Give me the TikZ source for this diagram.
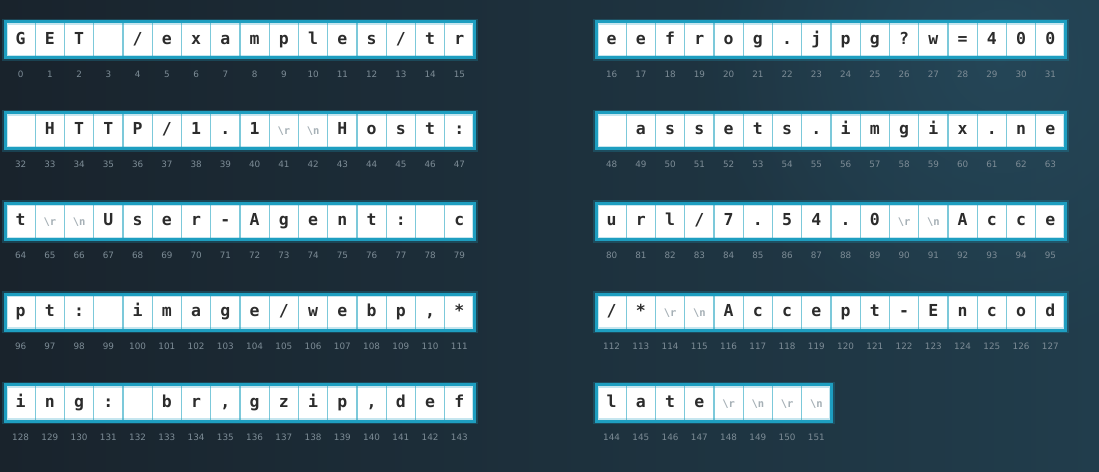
\documentclass[tikz,border=0pt]{standalone}
\usepackage{fontspec}
\usetikzlibrary{fadings}
\setmainfont{DejaVu Sans}
\newfontfamily\cellfont{DejaVu Sans Mono}
\newfontfamily\numfont{DejaVu Sans}
\definecolor{bgL}{HTML}{19232C}
\definecolor{bgR}{HTML}{213D4C}
\definecolor{glow}{HTML}{26495B}
\definecolor{cellline}{HTML}{7CC9DA}
\definecolor{outerline}{HTML}{1E9EC0}
\definecolor{celltext}{HTML}{2C2C2C}
\definecolor{escgray}{HTML}{A6B0B6}
\definecolor{idxgray}{HTML}{7D8C96}
\tikzfading[name=softglow, inner color=transparent!0, outer color=transparent!100]
\newcommand\escch[1]{{\color{escgray}\fontsize{10.5}{10.5}\selectfont\textbackslash #1}}
\tikzset{
  cellbox/.style={draw=cellline, line width=1.2pt, fill=white, minimum width=29.25pt,
    minimum height=35pt, inner sep=0pt, text=celltext, text height=11.5pt, text depth=3pt,
    font=\cellfont\bfseries\fontsize{16.5}{16.5}\selectfont},
  idxlabel/.style={text=idxgray, inner sep=0pt, text height=6.5pt, text depth=0pt,
    font=\numfont\fontsize{8.8}{8.8}\selectfont},
  outerbox/.style={draw=outerline, line width=3pt},
  glowbox/.style={draw=outerline, line width=6pt, opacity=0.25}
}
\newcommand\brow[5]{%
  \foreach \c [count=\k from 0] in {#5} {
    \pgfmathtruncatemacro\idx{#3+\k}
    \node[cellbox] (c\idx) at ({#1+29.25*\k+14.625}, #2) {\c};
    \node[idxlabel] (n\idx) at ([yshift=-34pt]c\idx.center) {\idx};
  }
  \draw[glowbox] (c#3.north west) rectangle (c#4.south east);
  \draw[outerbox] (c#3.north west) rectangle (c#4.south east);
}
\begin{document}
\begin{tikzpicture}[x=1pt,y=-1pt]
\shade[left color=bgL, right color=bgR] (0,0) rectangle (1099,471);
\begin{scope}
  \clip (0,0) rectangle (1099,471);
  \fill[glow, path fading=softglow, opacity=0.8] (1000,60) circle (300);
\end{scope}
\useasboundingbox (0,0) rectangle (1099,471);
\def\R{\escch{r}}
\def\N{\escch{n}}
% left column
\brow{6}{39.8}{0}{15}{G,E,T,{},/,e,x,a,m,p,l,e,s,/,t,r}
\brow{6}{130.6}{32}{47}{{},H,T,T,P,/,1,.,1,\R,\N,H,o,s,t,:}
\brow{6}{221.4}{64}{79}{t,\R,\N,U,s,e,r,-,A,g,e,n,t,:,{},c}
\brow{6}{312.2}{96}{111}{p,t,:,{},i,m,a,g,e,/,w,e,b,p,{,},*}
\brow{6}{403}{128}{143}{i,n,g,:,{},b,r,{,},g,z,i,p,{,},d,e,f}
% right column
\brow{597}{39.8}{16}{31}{e,e,f,r,o,g,.,j,p,g,?,w,=,4,0,0}
\brow{597}{130.6}{48}{63}{{},a,s,s,e,t,s,.,i,m,g,i,x,.,n,e}
\brow{597}{221.4}{80}{95}{u,r,l,/,7,.,5,4,.,0,\R,\N,A,c,c,e}
\brow{597}{312.2}{112}{127}{/,*,\R,\N,A,c,c,e,p,t,-,E,n,c,o,d}
\brow{597}{403}{144}{151}{l,a,t,e,\R,\N,\R,\N}
\end{tikzpicture}
\end{document}
